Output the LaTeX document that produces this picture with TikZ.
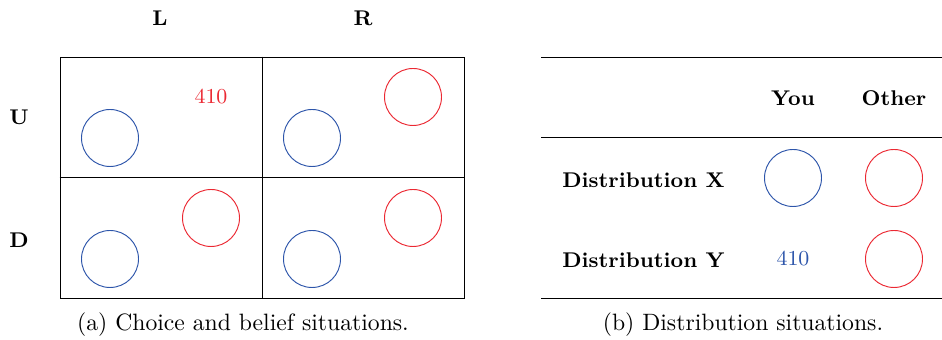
\documentclass[tikz,border=0pt]{standalone}
\usetikzlibrary{calc, positioning}
\definecolor{youblue}{RGB}{45,85,170}
\definecolor{othred}{RGB}{235,40,50}
\newcommand{\pxu}{0.4225pt}

\begin{document}
\begin{tikzpicture}[x=\pxu, y=-\pxu, font=\small,
    youcirc/.style={draw=youblue, circle, minimum size=57*\pxu, inner sep=0pt},
    othcirc/.style={draw=othred, circle, minimum size=57*\pxu, inner sep=0pt},
    head/.style={font=\small\bfseries},
    rule/.style={line width=0.4pt}]

    \useasboundingbox (0,0) rectangle (942,340);

    % Draw the game grid
    \node[draw, rectangle, minimum width=404*\pxu, minimum height=241*\pxu, inner sep=0pt] (grid) at (262,177.5) {};
    \draw (grid.north) -- (grid.south);
    \draw (grid.west) -- (grid.east);

    \node[head] (colL) at (160,18) {L};
    \node[head] (colR) at (363,18) {R};
    \node[head] (rowU) at (19,117) {U};
    \node[head] (rowD) at (19,240) {D};

    \node[youcirc] (ulyou) at (110,138) {};
    \node[text=othred] (ulnum) at (211,97) {410};
    \node[youcirc] (uryou) at (312,138) {};
    \node[othcirc] (uroth) at (413,97) {};
    \node[youcirc] (dlyou) at (110,259) {};
    \node[othcirc] (dloth) at (211,218) {};
    \node[youcirc] (dryou) at (312,259) {};
    \node[othcirc] (droth) at (413,218) {};

    \node[font=\normalsize] (capa) at (243,325) {(a) Choice and belief situations.};

    % Draw the distribution table
    \coordinate (top) at (541,57);
    \coordinate (mid) at (541,137);
    \coordinate (bot) at (541,298);
    \draw[rule] (top) -- ++(401,0);
    \draw[rule] (mid) -- ++(401,0);
    \draw[rule] (bot) -- ++(401,0);

    \node[head] (you) at (793,98) {You};
    \node[head] (other) at (894,98) {Other};
    \node[head, anchor=west] (distx) at (554,180) {Distribution X};
    \node[head, anchor=west] (disty) at (554,260) {Distribution Y};

    \node[youcirc] (xyou) at (793,178) {};
    \node[othcirc] (xoth) at (894,178) {};
    \node[text=youblue] (ynum) at (793,259) {410};
    \node[othcirc] (yoth) at (894,259) {};

    \node[font=\normalsize] (capb) at (743,325) {(b) Distribution situations.};

\end{tikzpicture}
\end{document}
